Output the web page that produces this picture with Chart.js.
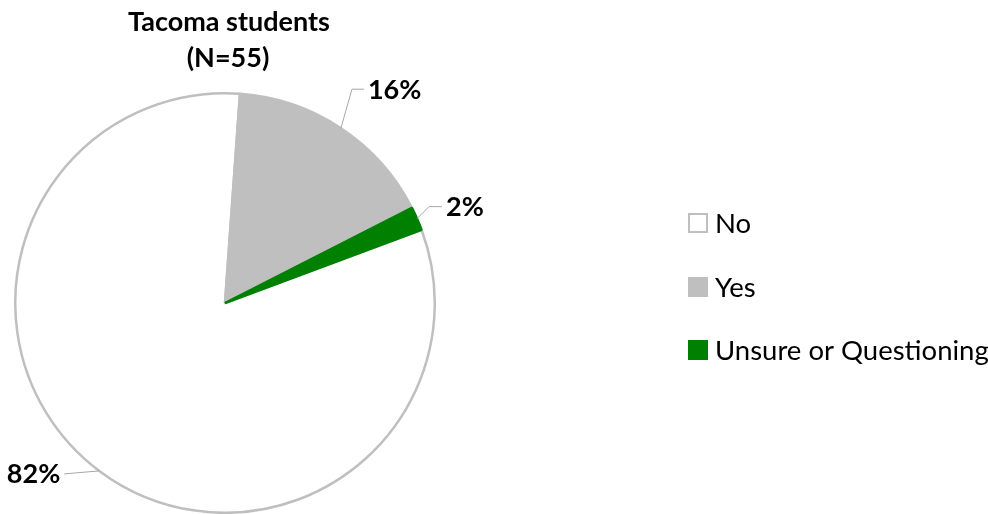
<!DOCTYPE html>
<html>
<head>
<meta charset="utf-8">
<script src="https://cdn.jsdelivr.net/npm/chart.js@4"></script>
<style>
  html, body { margin: 0; padding: 0; background: #fff; }
  #wrap { width: 988px; height: 514px; position: relative; }
</style>
</head>
<body>
<div id="wrap"><canvas id="myChart" width="988" height="514"></canvas></div>
<script>
// data (N=55)
const labels = ['No', 'Yes', 'Unsure or Questioning'];
const counts = [45, 9, 1];
const pctLabels = ['82%', '16%', '2%'];
const titleLines = ['Tacoma students', '(N=55)'];
const colors = ['#ffffff', '#bfbfbf', '#008000'];
const borders = ['#bfbfbf', '#bfbfbf', '#008000'];

const FONT = 'Lato, "Open Sans", sans-serif';

// leader line: elbow offset from slice edge, then horizontal run
const leader = [
  { dx: -35, dy: 3, run: 0, side: 'left' },
  { dx: 11, dy: -39, run: 12, side: 'right' },
  { dx: 12, dy: -12, run: 13, side: 'right' }
];

const extras = {
  id: 'extras',
  afterDraw(chart) {
    const ctx = chart.ctx;
    const meta = chart.getDatasetMeta(0);
    ctx.save();
    // title
    ctx.fillStyle = '#000';
    ctx.font = 'bold 27px ' + FONT;
    ctx.textAlign = 'center';
    ctx.textBaseline = 'middle';
    ctx.fillText(titleLines[0], 229, 22);
    ctx.fillText(titleLines[1], 228, 58);

    // data labels with leader lines
    meta.data.forEach(function(arc, i) {
      const p = arc.getProps(['x', 'y', 'startAngle', 'endAngle', 'outerRadius'], true);
      const mid = (p.startAngle + p.endAngle) / 2;
      const sx = p.x + Math.cos(mid) * p.outerRadius;
      const sy = p.y + Math.sin(mid) * p.outerRadius;
      const l = leader[i];
      const ex = sx + l.dx, ey = sy + l.dy;
      const hx = l.side === 'right' ? ex + l.run : ex - l.run;
      ctx.strokeStyle = '#a6a6a6';
      ctx.lineWidth = 1;
      ctx.beginPath();
      ctx.moveTo(sx, sy);
      ctx.lineTo(ex, ey);
      ctx.lineTo(hx, ey);
      ctx.stroke();
      ctx.font = 'bold 27px ' + FONT;
      ctx.fillStyle = '#000';
      ctx.textBaseline = 'middle';
      if (l.side === 'right') {
        ctx.textAlign = 'left';
        ctx.fillText(pctLabels[i], hx + 4, ey + 1);
      } else {
        ctx.textAlign = 'right';
        ctx.fillText(pctLabels[i], hx - 4, ey);
      }
    });

    // legend
    const lx = 688, ly = [223, 287, 350];
    ctx.font = '27.5px ' + FONT;
    ctx.textAlign = 'left';
    ctx.textBaseline = 'middle';
    labels.forEach(function(t, i) {
      ctx.fillStyle = colors[i];
      ctx.fillRect(lx, ly[i] - 10, 20, 20);
      if (i === 0) {
        ctx.strokeStyle = '#bfbfbf';
        ctx.lineWidth = 2;
        ctx.strokeRect(lx + 1, ly[i] - 9, 18, 18);
      }
      ctx.fillStyle = '#000';
      ctx.fillText(t, lx + 27, ly[i] + 1);
    });
    ctx.restore();
  }
};

// first slice angle so that "No" ends just right of 12 o'clock
const total = counts.reduce((a, b) => a + b, 0);
const rotation = 4.1 - 360 * counts[0] / total;

new Chart(document.getElementById('myChart'), {
  type: 'pie',
  data: {
    labels: labels,
    datasets: [{
      data: counts,
      backgroundColor: colors,
      borderColor: borders,
      borderWidth: 2.5
    }]
  },
  options: {
    responsive: false,
    animation: false,
    rotation: rotation,
    layout: { padding: { left: 14, top: 92, right: 552, bottom: 0 } },
    plugins: {
      legend: { display: false },
      title: { display: false },
      tooltip: { enabled: false }
    }
  },
  plugins: [extras]
});
</script>
</body>
</html>
